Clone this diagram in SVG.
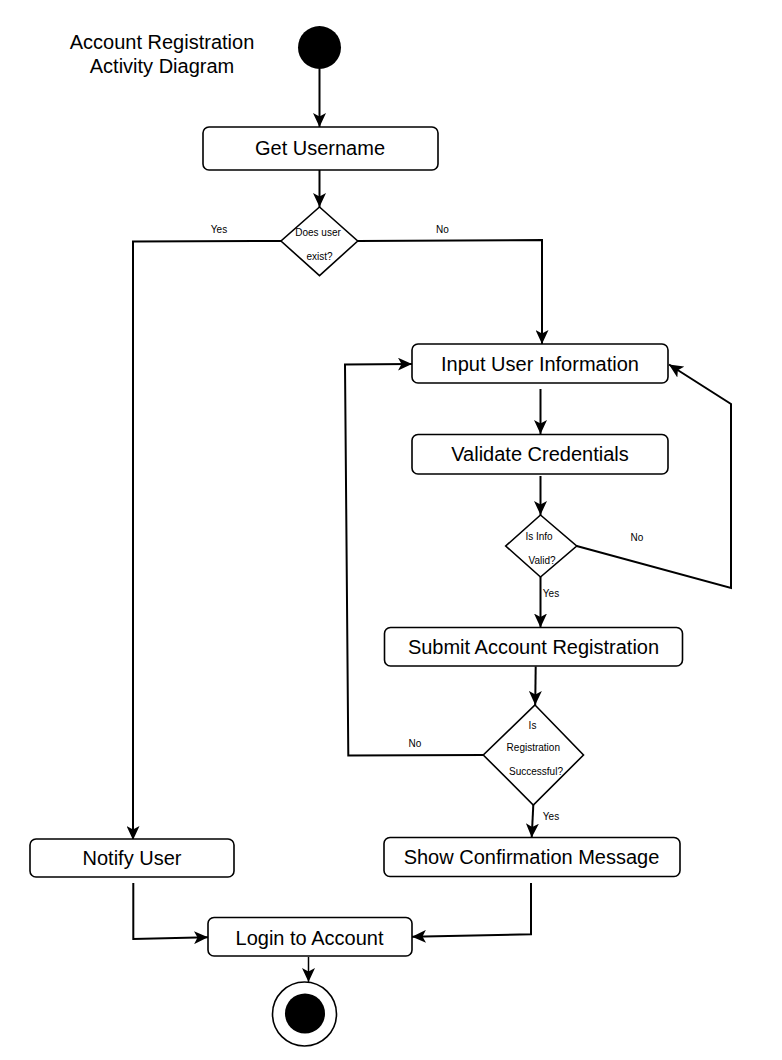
<svg xmlns="http://www.w3.org/2000/svg" width="782" height="1060" viewBox="0 0 782 1060">
  <style>
    .box { fill: #ffffff; stroke: #000000; stroke-width: 1.6; }
    .dia { fill: #ffffff; stroke: #000000; stroke-width: 1.6; }
    .t { font-family: "Liberation Sans", Arial, sans-serif; font-size: 20px; fill: #000000; text-anchor: middle; }
    .s { font-family: "Liberation Sans", Arial, sans-serif; font-size: 10px; fill: #000000; text-anchor: middle; }
    .c { fill: none; stroke: #000000; stroke-width: 2; stroke-linejoin: miter; }
  </style>
  <defs>
    <marker id="arrow" markerUnits="userSpaceOnUse" markerWidth="15" markerHeight="13" refX="14" refY="6.5" orient="auto">
      <path d="M0,0 L14,6.5 L0,13 L3.5,6.5 z" fill="#000000"/>
    </marker>
  </defs>
  <rect width="782" height="1060" fill="#ffffff"/>

  <g id="title">
    <text class="t" x="162" y="49">Account Registration</text>
    <text class="t" x="162" y="73">Activity Diagram</text>
  </g>

  <g id="connectors">
    <path class="c" d="M319.5,69 L319.5,127" marker-end="url(#arrow)"/>
    <path class="c" d="M319.5,170 L319.5,207" marker-end="url(#arrow)"/>
    <path class="c" d="M281,241 L133,241.5 L133,840" marker-end="url(#arrow)"/>
    <path class="c" d="M357.7,241 L542,240 L542,344" marker-end="url(#arrow)"/>
    <path class="c" d="M540.5,389 L540.5,434" marker-end="url(#arrow)"/>
    <path class="c" d="M540.5,476 L540.5,515" marker-end="url(#arrow)"/>
    <path class="c" d="M576.7,546 L731,588 L731,404 L669,364.5" marker-end="url(#arrow)"/>
    <path class="c" d="M540.5,577 L540.5,627.5" marker-end="url(#arrow)"/>
    <path class="c" d="M535.7,666.5 L535.2,705" marker-end="url(#arrow)"/>
    <path class="c" d="M483.3,755 L348.3,755.5 L345,364.5 L412,364" marker-end="url(#arrow)"/>
    <path class="c" d="M533.3,805 L531.7,837.5" marker-end="url(#arrow)"/>
    <path class="c" d="M133.3,883 L133.3,939 L208,937.3" marker-end="url(#arrow)"/>
    <path class="c" d="M531,883 L531,934.3 L412,936.7" marker-end="url(#arrow)"/>
    <path class="c" style="stroke-width:1.5" d="M308.5,957 L308.5,982" marker-end="url(#arrow)"/>
    <text class="s" x="219" y="232.5">Yes</text>
    <text class="s" x="442.5" y="232.5">No</text>
    <text class="s" x="637" y="540.5">No</text>
    <text class="s" x="551" y="596.8">Yes</text>
    <text class="s" x="415" y="746.5">No</text>
    <text class="s" x="551" y="819.5">Yes</text>
  </g>

  <g id="start">
    <circle cx="319.5" cy="47.5" r="21.5" fill="#000000"/>
  </g>

  <g id="get-username">
    <rect class="box" x="203" y="127" width="235" height="43" rx="6"/>
    <text class="t" x="320" y="155">Get Username</text>
  </g>

  <g id="does-user-exist">
    <polygon class="dia" points="319.5,207 357.7,241 319.5,275.7 281,241"/>
    <text class="s" x="318" y="236.3">Does user</text>
    <text class="s" x="319.5" y="260.3">exist?</text>
  </g>

  <g id="input-user-information">
    <rect class="box" x="412" y="344" width="256" height="39" rx="6"/>
    <text class="t" x="540" y="371">Input User Information</text>
  </g>

  <g id="validate-credentials">
    <rect class="box" x="412" y="434.5" width="256" height="39.5" rx="6"/>
    <text class="t" x="540" y="461">Validate Credentials</text>
  </g>

  <g id="is-info-valid">
    <polygon class="dia" points="540.5,515 576.7,546 540.5,577 505.7,546"/>
    <text class="s" x="539" y="540">Is Info</text>
    <text class="s" x="542" y="563.5">Valid?</text>
  </g>

  <g id="submit-account-registration">
    <rect class="box" x="384.5" y="627.5" width="298" height="38.5" rx="6"/>
    <text class="t" x="533.5" y="653.5">Submit Account Registration</text>
  </g>

  <g id="is-registration-successful">
    <polygon class="dia" points="535,705 583.5,755 533.3,805 483.3,755"/>
    <text class="s" x="532.5" y="728.5">Is</text>
    <text class="s" x="533.3" y="751.3">Registration</text>
    <text class="s" x="536" y="774.8">Successful?</text>
  </g>

  <g id="show-confirmation-message">
    <rect class="box" x="384" y="837.5" width="296" height="39" rx="6"/>
    <text class="t" x="531.5" y="864">Show Confirmation Message</text>
  </g>

  <g id="notify-user">
    <rect class="box" x="30" y="839" width="204" height="38" rx="6"/>
    <text class="t" x="132" y="865">Notify User</text>
  </g>

  <g id="login-to-account">
    <rect class="box" x="208" y="917.5" width="204" height="38.5" rx="6"/>
    <text class="t" x="309.5" y="944.5">Login to Account</text>
  </g>

  <g id="end">
    <circle cx="304.5" cy="1014" r="32" fill="#ffffff" stroke="#000000" stroke-width="1.6"/>
    <circle cx="305" cy="1013.5" r="20" fill="#000000"/>
  </g>
</svg>
